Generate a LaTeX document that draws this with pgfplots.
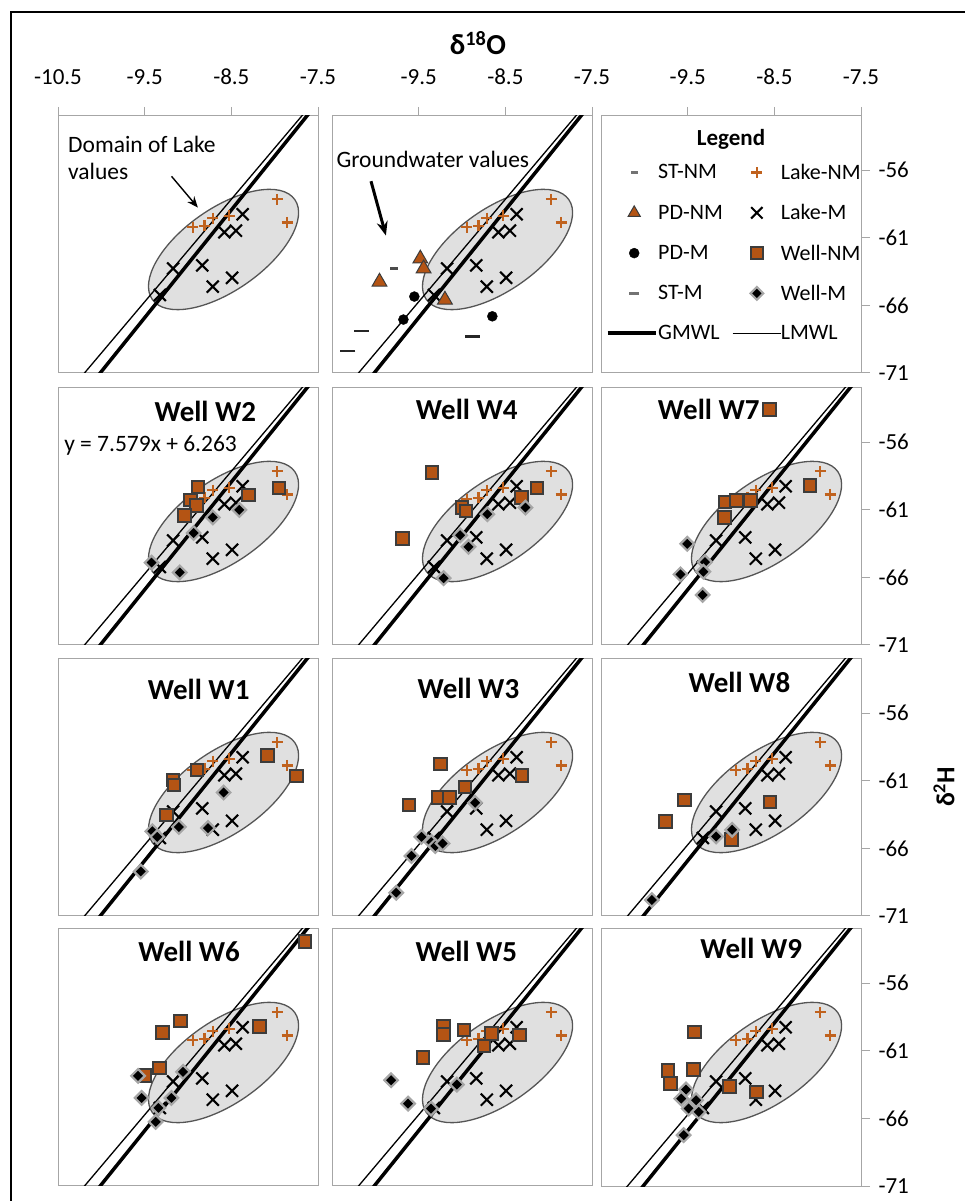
\documentclass[border=0pt]{standalone}
\usepackage{pgfplots}
\pgfplotsset{compat=1.18}
\usepackage{fontspec}
\setmainfont{Carlito}
\usetikzlibrary{arrows.meta,shapes.geometric}

\definecolor{orng}{RGB}{180,84,20}
\definecolor{orngp}{RGB}{192,98,30}
\definecolor{sqedge}{RGB}{60,60,60}
\definecolor{framec}{RGB}{166,166,166}
\definecolor{ellfill}{RGB}{224,224,224}
\definecolor{elledge}{RGB}{85,85,85}

\pgfplotsset{
  panel/.style={scale only axis, width=260pt, height=257pt,
    xmin=-10.5, xmax=-7.5, ymin=-71, ymax=-52,
    axis line style={draw=framec, line width=1pt},
    xtick=\empty, ytick=\empty, anchor=south west,
    tick style={draw=framec, line width=1pt}, major tick length=9pt, tick align=outside,
    /pgf/number format/assume math mode=true, /pgf/number format/fixed,
    ticklabel style={font=\fontsize{23}{23}\selectfont}},
  toptick/.style={xtick pos=right, xticklabel pos=right, xticklabel style={yshift=19pt}},
  righttick/.style={ytick={-71,-66,-61,-56}, ytick pos=right, yticklabel pos=right, yticklabel style={xshift=5pt}},
  lakeNM/.style={only marks, mark=+, mark size=5.5pt, color=orngp, line width=2.3pt},
  lakeM/.style={only marks, mark=x, mark size=8.5pt, color=black, line width=2.1pt},
  wellNM/.style={only marks, mark=square*, mark size=6.3pt, mark options={fill=orng, draw=sqedge, line width=2pt}},
  wellM/.style={only marks, mark=square*, mark size=4.8pt, mark options={rotate=45, fill=black, draw=gray!70, line width=2.2pt}},
  pdNM/.style={only marks, mark=triangle*, mark size=8.5pt, mark options={fill=orng, draw=sqedge, line width=1pt}},
  pdM/.style={only marks, mark=*, mark size=5pt, color=black},
  stNM/.style={only marks, mark=-, mark size=4pt, color=black!70, line width=2.5pt},
  stM/.style={only marks, mark=-, mark size=7.5pt, color=black!85, line width=2.5pt},
  gmwl/.style={no marks, black, line width=3.5pt},
  lmwl/.style={no marks, black, line width=1.3pt},
  mkleg/.style={legend image code/.code={\path[draw=none, fill=none] (-12pt,-7pt) rectangle (22pt,7pt); \draw[##1] plot coordinates {(0pt,0pt)};}},
  gmwlleg/.style={legend image code/.code={\path[draw=none, fill=none] (-12pt,-7pt) rectangle (22pt,7pt); \draw[line width=3.5pt, black, overlay] (-26.7pt,0pt) -- (21.7pt,0pt);}},
  lmwlleg/.style={legend image code/.code={\path[draw=none, fill=none] (-12pt,-7pt) rectangle (22pt,7pt); \draw[line width=1.3pt, black, overlay] (-24.3pt,0pt) -- (24pt,0pt);}},
}

\newcommand{\common}{%
  \node[ellipse, draw=elledge, fill=ellfill, line width=1.3pt, minimum width=174pt, minimum height=82pt, inner sep=0pt, rotate=35] at (axis cs:-8.59,-61.87) {};
  \addplot[lmwl] coordinates {(-10.4,-72.56) (-7.5,-50.58)};
  \addplot[gmwl] coordinates {(-10.2,-72.49) (-7.5,-50.98)};
  \addplot[lakeNM] coordinates {(-8.943,-60.23) (-8.809,-60.11) (-8.714,-59.55) (-8.523,-59.38) (-7.970,-58.16) (-7.855,-59.87)};
  \addplot[lakeM] coordinates {(-8.370,-59.27) (-8.580,-60.60) (-8.447,-60.48) (-9.172,-63.28) (-8.836,-63.04) (-8.714,-64.62) (-8.492,-63.96) (-9.324,-65.23)};
}
\newcommand{\wells}[2]{%
  \addplot[wellNM] coordinates {#1};
  \addplot[wellM] coordinates {#2};
}
\newcommand{\ptitle}[3]{\node[font=\fontsize{29}{29}\selectfont\bfseries, inner sep=0pt] at (axis cs:#1,#2) {#3};}

\begin{document}
\begin{tikzpicture}[x=1pt,y=1pt]
\path[use as bounding box] (0,0) rectangle (965,1201);
\draw[line width=1.2pt] (11,0) -- (11,1189) -- (965,1189);

\node[font=\fontsize{29}{29}\selectfont\bfseries] at (478,1158) {δ\textsuperscript{18}O};
\node[font=\fontsize{26}{26}\selectfont\bfseries, rotate=90] at (944,414) {δ\textsuperscript{2}H};

% ---------- Row 1 ----------
\begin{axis}[panel, at={(58pt,828pt)}, xtick={-10.5,-9.5,-8.5,-7.5}, toptick]
\common
\node[anchor=north west, align=left, inner sep=0pt, font=\fontsize{23.5}{27}\selectfont] at (axis cs:-10.385,-53.5) {Domain of Lake\\values};
\draw[-{Stealth[length=11pt,width=9pt]}, line width=1.4pt] (axis cs:-9.19,-56.46) -- (axis cs:-8.886,-58.77);
\end{axis}

\begin{axis}[panel, at={(332pt,828pt)}, xtick={-9.5,-8.5,-7.5}, toptick]
\common
\addplot[stNM] coordinates {(-9.787,-63.28)};
\addplot[stM] coordinates {(-10.163,-67.91) (-10.316,-69.37) (-8.879,-68.32)};
\addplot[pdM] coordinates {(-9.550,-65.35) (-9.676,-67.05) (-8.650,-66.81)};
\addplot[pdNM] coordinates {(-9.481,-62.55) (-9.443,-63.28) (-9.952,-64.26) (-9.197,-65.59)};
\node[anchor=west, inner sep=0pt, font=\fontsize{23.5}{23.5}\selectfont] at (axis cs:-10.45,-55.24) {Groundwater values};
\draw[-{Stealth[length=14pt,width=11pt]}, line width=3pt] (axis cs:-10.05,-56.82) -- (axis cs:-9.878,-60.84);
\end{axis}

\begin{axis}[panel, at={(601pt,828pt)}, xtick={-9.5,-8.5,-7.5}, toptick, righttick,
  legend columns=2, legend cell align=left, mkleg,
  legend style={at={(0.0808,0.821)}, anchor=north west, draw=none, fill=none, inner sep=0pt,
    font=\fontsize{22}{22}\selectfont, row sep=19.5pt, nodes={inner sep=2pt},
    /tikz/every even column/.append style={column sep=20pt}}]
\addlegendimage{mark=-, mark size=3.5pt, color=black!55, line width=2.5pt}
\addlegendentry{ST-NM}
\addlegendimage{mark=+, mark size=5.5pt, color=orngp, line width=2.3pt}
\addlegendentry{Lake-NM}
\addlegendimage{mark=triangle*, mark size=7pt, mark options={fill=orng, draw=sqedge, line width=1pt}}
\addlegendentry{PD-NM}
\addlegendimage{mark=x, mark size=8pt, color=black, line width=2.1pt}
\addlegendentry{Lake-M}
\addlegendimage{mark=*, mark size=5pt, color=black}
\addlegendentry{PD-M}
\addlegendimage{mark=square*, mark size=6pt, mark options={fill=orng, draw=sqedge, line width=2pt}}
\addlegendentry{Well-NM}
\addlegendimage{mark=-, mark size=5pt, color=black!55, line width=2.5pt}
\addlegendentry{ST-M}
\addlegendimage{mark=square*, mark size=4.5pt, mark options={rotate=45, fill=black, draw=gray!70, line width=2.2pt}}
\addlegendentry{Well-M}
\addlegendimage{gmwlleg}
\addlegendentry{GMWL}
\addlegendimage{lmwlleg}
\addlegendentry{LMWL}
\node[font=\fontsize{23}{23}\selectfont\bfseries] at (axis description cs:0.5,0.909) {Legend};
\end{axis}

% ---------- Row 2 ----------
\begin{axis}[panel, at={(58pt,556pt)}]
\common
\wells{(-8.886,-59.31) (-8.973,-60.28) (-8.905,-60.70) (-9.038,-61.43) (-8.302,-59.92) (-7.950,-59.38)}
      {(-8.714,-61.57) (-8.408,-61.01) (-8.935,-62.72) (-9.420,-64.91) (-9.095,-65.64)}
\ptitle{-8.80}{-53.70}{Well W2}
\node[anchor=west, inner sep=0pt, font=\fontsize{23.5}{23.5}\selectfont] at (axis cs:-10.43,-56.26) {y = 7.579x + 6.263};
\end{axis}

\begin{axis}[panel, at={(332pt,556pt)}]
\common
\wells{(-9.346,-58.26) (-9.690,-63.13) (-9.002,-60.84) (-8.956,-61.09) (-8.314,-60.11) (-8.134,-59.38)}
      {(-8.708,-61.33) (-8.268,-60.84) (-9.021,-62.89) (-8.925,-63.74) (-9.212,-66.06)}
\ptitle{-8.945}{-53.58}{Well W4}
\end{axis}

\begin{axis}[panel, at={(601pt,556pt)}, righttick]
\common
\wells{(-8.553,-53.57) (-9.068,-60.43) (-8.940,-60.34) (-8.777,-60.34) (-9.075,-61.56) (-8.088,-59.21)}
      {(-9.505,-63.52) (-9.300,-64.87) (-9.583,-65.78) (-9.319,-65.58) (-9.327,-67.30)}
\ptitle{-9.257}{-53.57}{Well W7}
\end{axis}

% ---------- Row 3 ----------
\begin{axis}[panel, at={(58pt,285pt)}]
\common
\wells{(-9.174,-60.94) (-9.162,-61.33) (-8.895,-60.21) (-8.081,-59.14) (-7.748,-60.65) (-9.250,-63.52)}
      {(-8.589,-61.87) (-9.105,-64.42) (-8.769,-64.50) (-9.411,-64.74) (-9.354,-65.15) (-9.545,-67.71)}
\ptitle{-8.877}{-54.26}{Well W1}
\end{axis}

\begin{axis}[panel, at={(332pt,285pt)}]
\common
\wells{(-9.250,-59.77) (-9.613,-62.80) (-9.269,-62.24) (-9.147,-62.24) (-8.964,-61.46) (-8.306,-60.61)}
      {(-8.849,-62.63) (-9.468,-65.15) (-9.354,-65.54) (-9.308,-65.83) (-9.224,-65.64) (-9.583,-66.56) (-9.759,-69.28)}
\ptitle{-8.926}{-54.19}{Well W3}
\end{axis}

\begin{axis}[panel, at={(601pt,285pt)}, righttick]
\common
\wells{(-9.535,-62.42) (-9.759,-64.01) (-8.550,-62.57) (-8.994,-65.36)}
      {(-9.172,-65.12) (-8.987,-64.63) (-9.913,-69.82)}
\ptitle{-8.903}{-53.71}{Well W8}
\end{axis}

% ---------- Row 4 ----------
\begin{axis}[panel, at={(58pt,15pt)}]
\common
\wells{(-7.650,-52.94) (-9.089,-58.81) (-9.292,-59.65) (-8.177,-59.23) (-9.332,-62.27) (-9.495,-62.81)}
      {(-9.576,-62.86) (-9.057,-62.56) (-9.535,-64.49) (-9.191,-64.49) (-9.341,-65.23) (-9.373,-66.26)}
\ptitle{-8.987}{-53.63}{Well W6}
\end{axis}

\begin{axis}[panel, at={(332pt,15pt)}]
\common
\wells{(-9.214,-59.16) (-9.214,-59.80) (-8.978,-59.48) (-9.451,-61.52) (-8.663,-59.72) (-8.745,-60.64) (-8.337,-59.85)}
      {(-9.818,-63.18) (-9.622,-64.91) (-9.059,-63.50) (-9.357,-65.28)}
\ptitle{-8.95}{-53.63}{Well W5}
\end{axis}

\begin{axis}[panel, at={(601pt,15pt)}, righttick]
\common
\wells{(-9.419,-59.62) (-9.728,-62.45) (-9.431,-62.40) (-9.701,-63.43) (-9.017,-63.63) (-8.708,-64.04)}
      {(-9.519,-63.87) (-9.573,-64.54) (-9.403,-64.66) (-9.488,-65.27) (-9.373,-65.52) (-9.546,-67.24)}
\ptitle{-8.767}{-53.47}{Well W9}
\end{axis}
\end{tikzpicture}
\end{document}
